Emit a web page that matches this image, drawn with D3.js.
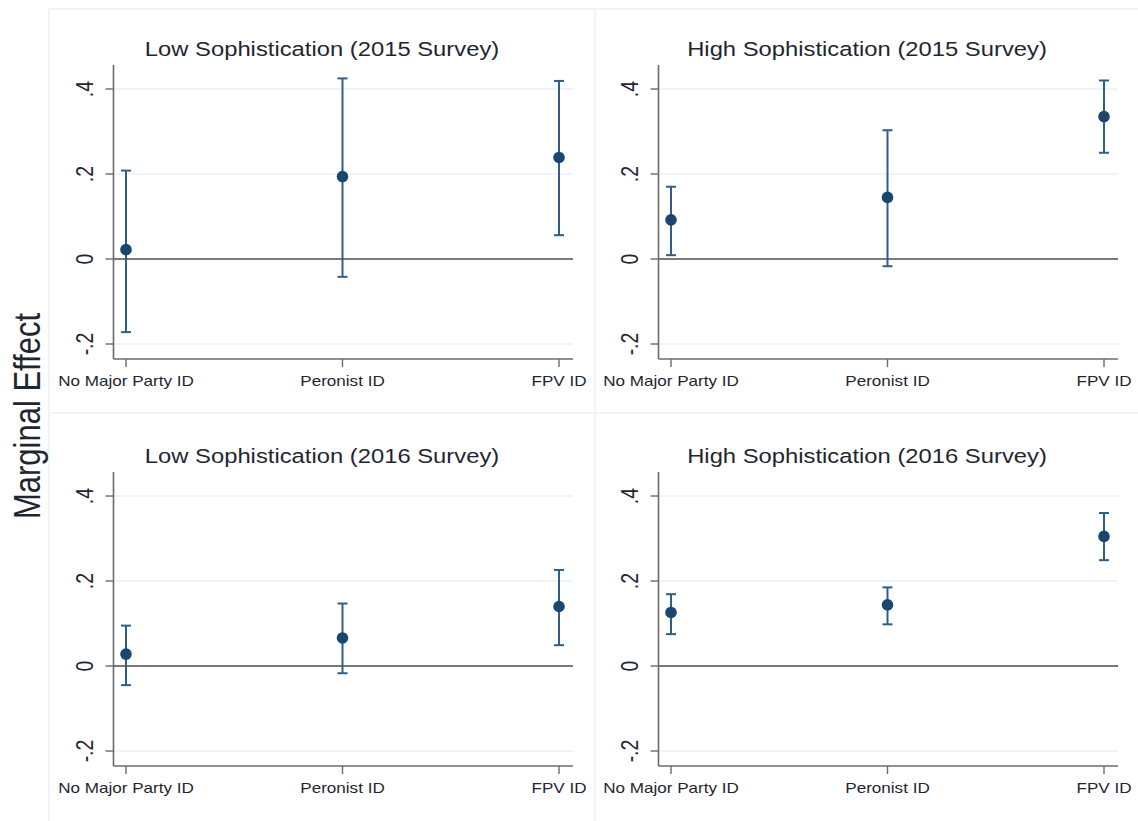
<!DOCTYPE html>
<html>
<head>
<meta charset="utf-8">
<script src="https://cdn.jsdelivr.net/npm/d3@7.9.0/dist/d3.min.js"></script>
<style>
  html, body { margin: 0; padding: 0; background: #fff; }
  svg { display: block; font-family: "Liberation Sans", Arial, sans-serif; }
</style>
</head>
<body>
<svg id="chart" width="1138" height="821"></svg>
<script>
// ---- data ----
const categories = ['No Major Party ID', 'Peronist ID', 'FPV ID'];
const panelTitles = [
  'Low Sophistication (2015 Survey)',
  'High Sophistication (2015 Survey)',
  'Low Sophistication (2016 Survey)',
  'High Sophistication (2016 Survey)',
];
const estimates = [
  [0.022, 0.194, 0.239],
  [0.092, 0.145, 0.335],
  [0.028, 0.066, 0.140],
  [0.126, 0.144, 0.305],
];
const lowerCI = [
  [-0.172, -0.042, 0.056],
  [0.009, -0.017, 0.250],
  [-0.045, -0.017, 0.049],
  [0.075, 0.098, 0.249],
];
const upperCI = [
  [0.208, 0.425, 0.419],
  [0.170, 0.303, 0.420],
  [0.095, 0.147, 0.226],
  [0.169, 0.185, 0.360],
];
const yTicks = [-0.2, 0, 0.2, 0.4];
const yTickLabels = ['-.2', '0', '.2', '.4'];
const yLabel = 'Marginal Effect';

// ---- look ----
const STRETCH = 1.22;          // the source image is a bit wide
const TEXT = '#1f2630';
const NAVY = '#1a476f';
const BAR = '#2f5f88';
const AXIS = '#6b6b6b';
const GRID = '#edf1f5';
const FRAME = '#f2f3f5';

const svg = d3.select('#chart');

// panel frames
const frames = [
  [49, 9, 546, 404], [595, 9, 545, 404],
  [49, 413, 546, 410], [595, 413, 545, 410],
];
svg.selectAll('rect.frame')
  .data(frames)
  .join('rect')
  .attr('class', 'frame')
  .attr('x', (d) => d[0]).attr('y', (d) => d[1])
  .attr('width', (d) => d[2]).attr('height', (d) => d[3])
  .attr('fill', 'none')
  .attr('stroke', FRAME)
  .attr('stroke-width', 2);

// text helper, with horizontal stretch
function addText(parent, x, y, str, size, rotate, anchor) {
  const g = parent.append('g')
    .attr('transform', `translate(${x},${y}) scale(${STRETCH},1)` + (rotate ? ' rotate(-90)' : ''));
  g.append('text')
    .attr('text-anchor', anchor || 'middle')
    .attr('font-size', size)
    .attr('fill', TEXT)
    .text(str);
  return g;
}

// shared scales (panel-local coordinates)
const axisX = 113.5;
const plotRight = 573;
const x = d3.scalePoint().domain(categories).range([126, 559]);
const y = d3.scaleLinear().domain([-0.2353, 0.4565]).range([359, 65]);

const offsets = [[0, 0], [545, 0], [0, 407], [545, 407]];

panelTitles.forEach((title, p) => {
  const g = svg.append('g')
    .attr('transform', `translate(${offsets[p][0]},${offsets[p][1]})`);

  // gridlines
  g.selectAll('line.grid')
    .data(yTicks.filter((t) => t !== 0))
    .join('line')
    .attr('x1', axisX).attr('x2', plotRight)
    .attr('y1', (d) => y(d)).attr('y2', (d) => y(d))
    .attr('stroke', GRID).attr('stroke-width', 1.5);

  // zero line
  g.append('line')
    .attr('x1', axisX).attr('x2', plotRight)
    .attr('y1', y(0)).attr('y2', y(0))
    .attr('stroke', '#4d4d4d').attr('stroke-width', 1.5);

  // axes lines
  g.append('line')
    .attr('x1', axisX).attr('x2', axisX)
    .attr('y1', y.range()[1]).attr('y2', y.range()[0])
    .attr('stroke', AXIS).attr('stroke-width', 1.6);
  g.append('line')
    .attr('x1', axisX).attr('x2', plotRight)
    .attr('y1', y.range()[0]).attr('y2', y.range()[0])
    .attr('stroke', AXIS).attr('stroke-width', 1.6);

  // y ticks + labels
  g.selectAll('line.yt')
    .data(yTicks)
    .join('line')
    .attr('x1', axisX - 8).attr('x2', axisX)
    .attr('y1', (d) => y(d)).attr('y2', (d) => y(d))
    .attr('stroke', AXIS).attr('stroke-width', 1.4);
  yTicks.forEach((t, i) => addText(g, 93, y(t), yTickLabels[i], 19.5, true));

  // x ticks + labels
  g.selectAll('line.xt')
    .data(categories)
    .join('line')
    .attr('x1', (d) => x(d)).attr('x2', (d) => x(d))
    .attr('y1', y.range()[0]).attr('y2', y.range()[0] + 8)
    .attr('stroke', AXIS).attr('stroke-width', 1.4);
  categories.forEach((c) => addText(g, x(c), 386, c, 14));

  // title
  addText(g, 322, 56, title, 19.5);

  // error bars
  const rows = categories.map((c, i) => ({
    c, est: estimates[p][i], lo: lowerCI[p][i], hi: upperCI[p][i],
  }));
  const bars = g.selectAll('g.bar').data(rows).join('g').attr('class', 'bar');
  bars.append('line')
    .attr('x1', (d) => x(d.c)).attr('x2', (d) => x(d.c))
    .attr('y1', (d) => y(d.lo)).attr('y2', (d) => y(d.hi))
    .attr('stroke', BAR).attr('stroke-width', 2);
  ['lo', 'hi'].forEach((k) => {
    bars.append('line')
      .attr('x1', (d) => x(d.c) - 5).attr('x2', (d) => x(d.c) + 5)
      .attr('y1', (d) => y(d[k])).attr('y2', (d) => y(d[k]))
      .attr('stroke', BAR).attr('stroke-width', 2);
  });
  bars.append('circle')
    .attr('cx', (d) => x(d.c)).attr('cy', (d) => y(d.est))
    .attr('r', 5.8)
    .attr('fill', NAVY);
});

// overall y label
addText(svg, 40, 416, yLabel, 31, true);
</script>
</body>
</html>
